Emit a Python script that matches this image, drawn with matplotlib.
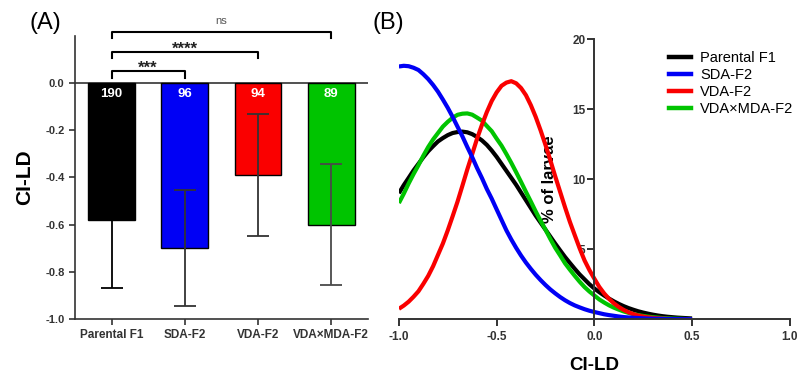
import numpy as np
import matplotlib
matplotlib.use("Agg")
import matplotlib.pyplot as plt
from matplotlib.lines import Line2D

plt.rcParams["font.family"] = ["Liberation Sans", "DejaVu Sans"]

# panel A: mean CI-LD per group
groups = ["Parental F1", "SDA-F2", "VDA-F2", "VDA×MDA-F2"]
means = [-0.58, -0.70, -0.39, -0.60]
sds = [0.29, 0.245, 0.26, 0.255]
counts = [190, 96, 94, 89]
colors = ["#000000", "#0000f5", "#fa0000", "#00c400"]
err_colors = ["#000000", "#333333", "#333333", "#4a4a4a"]
sig_pairs = [(0, 1, "***"), (0, 2, "****"), (0, 3, "ns")]
sig_heights = [0.05, 0.133, 0.217]

# panel B: distribution curves, read every 0.025 from -1.0 to 0.5
ci_grid = np.linspace(-1.0, 0.5, 61)
curve_parental = [9.0, 9.58, 10.1, 10.63, 11.1, 11.57, 12.0, 12.36, 12.7, 12.94,
                  13.15, 13.3, 13.37, 13.4, 13.35, 13.22, 13.02, 12.77, 12.45, 12.05,
                  11.6, 11.1, 10.6, 10.1, 9.6, 9.05, 8.5, 7.95, 7.4, 6.9,
                  6.4, 5.9, 5.4, 4.92, 4.45, 4.02, 3.6, 3.2, 2.85, 2.5,
                  2.2, 1.94, 1.7, 1.48, 1.28, 1.1, 0.94, 0.8, 0.68, 0.57,
                  0.48, 0.4, 0.33, 0.27, 0.22, 0.18, 0.15, 0.12, 0.1, 0.08, 0.06]
curve_sda = [18.05, 18.1, 18.07, 17.96, 17.8, 17.5, 17.15, 16.73, 16.25, 15.69,
             15.1, 14.45, 13.75, 13.06, 12.3, 11.58, 10.8, 10.08, 9.3, 8.61,
             7.85, 7.1, 6.35, 5.7, 5.1, 4.55, 4.05, 3.6, 3.18, 2.8,
             2.45, 2.13, 1.85, 1.59, 1.36, 1.16, 0.99, 0.85, 0.72, 0.61,
             0.52, 0.44, 0.36, 0.3, 0.25, 0.2, 0.16, 0.13, 0.11, 0.09,
             0.07, 0.05, 0.04, 0.035, 0.03, 0.02, 0.02, 0.015, 0.01, 0.01, 0.01]
curve_vda = [0.75, 0.98, 1.26, 1.61, 2.0, 2.53, 3.1, 3.79, 4.6, 5.41,
             6.35, 7.36, 8.4, 9.54, 10.7, 11.79, 12.9, 13.89, 14.8, 15.59,
             16.2, 16.67, 16.9, 17.0, 16.85, 16.51, 16.0, 15.29, 14.45, 13.49,
             12.45, 11.35, 10.2, 9.1, 8.0, 6.95, 6.0, 5.06, 4.2, 3.51,
             2.9, 2.32, 1.85, 1.46, 1.14, 0.88, 0.67, 0.5, 0.37, 0.27,
             0.2, 0.14, 0.1, 0.07, 0.05, 0.03, 0.02, 0.01, 0.01, 0.0, 0.0]
curve_vdamda = [8.3, 8.97, 9.7, 10.37, 11.0, 11.68, 12.3, 12.84, 13.3, 13.76,
                14.1, 14.39, 14.6, 14.68, 14.7, 14.61, 14.4, 14.18, 13.8, 13.43,
                12.9, 12.4, 11.8, 11.17, 10.5, 9.81, 9.1, 8.41, 7.7, 7.03,
                6.4, 5.73, 5.1, 4.56, 4.0, 3.54, 3.1, 2.68, 2.3, 1.98,
                1.7, 1.42, 1.2, 1.0, 0.83, 0.69, 0.56, 0.46, 0.37, 0.3,
                0.24, 0.19, 0.15, 0.12, 0.09, 0.07, 0.05, 0.04, 0.03, 0.02, 0.02]

fig = plt.figure(figsize=(8.01, 3.76), dpi=100)
axis_col = "#333333"

# ---------------- panel A
ax = fig.add_axes([0.0936, 0.1516, 0.3655, 0.753])
xs = np.arange(len(groups))
ax.bar(xs, means, width=0.64, color=colors, edgecolor="black", linewidth=1, zorder=2)
for i in range(len(groups)):
    ax.errorbar(xs[i], means[i], yerr=sds[i], color=err_colors[i], capsize=8,
                elinewidth=1.3, capthick=1.3, zorder=3)
    ax.text(xs[i], -0.047, str(counts[i]), color="white", fontsize=9.5,
            fontweight="bold", ha="center", va="center", zorder=4)
ax.axhline(0, color=axis_col, lw=1.2, zorder=1)

for (a, b, lab), h in zip(sig_pairs, sig_heights):
    ax.plot([a, a, b, b], [h - 0.028, h, h, h - 0.028], color="black", lw=1.5,
            clip_on=False)
    if lab == "ns":
        ax.text((a + b) / 2, h + 0.035, lab, fontsize=8, color="#555555",
                ha="center", va="baseline", clip_on=False)
    else:
        ax.text((a + b) / 2, h - 0.008, lab, fontsize=12, fontweight="bold",
                color="#222222", ha="center", va="baseline", clip_on=False)

ax.set_xlim(-0.5, 3.5)
ax.set_ylim(-1.0, 0.2)
ax.set_yticks([0.0, -0.2, -0.4, -0.6, -0.8, -1.0])
ax.set_yticklabels(["0.0", "-0.2", "-0.4", "-0.6", "-0.8", "-1.0"])
ax.set_xticks(xs)
ax.set_xticklabels(groups)
for s in ["top", "right"]:
    ax.spines[s].set_visible(False)
for s in ["left", "bottom"]:
    ax.spines[s].set_color(axis_col)
    ax.spines[s].set_linewidth(1.2)
ax.tick_params(axis="both", colors=axis_col, width=1.2, length=4)
for t in ax.get_xticklabels():
    t.set_fontweight("bold")
    t.set_fontsize(8.5)
for t in ax.get_yticklabels():
    t.set_fontweight("bold")
    t.set_fontsize(8)
ax.set_ylabel("CI-LD", fontsize=15, fontweight="bold", labelpad=8)
fig.text(0.037, 0.94, "(A)", fontsize=17, ha="left", va="center")

# ---------------- panel B
bx = fig.add_axes([0.498, 0.1508, 0.488, 0.745])
bx.set_axisbelow(True)
curve_style = dict(lw=3.0, solid_capstyle="butt", solid_joinstyle="round")
bx.plot(ci_grid, curve_parental, color="black", **curve_style)
bx.plot(ci_grid, curve_vdamda, color="#00c400", **curve_style)
bx.plot(ci_grid, curve_vda, color="#fa0000", **curve_style)
bx.plot(ci_grid, curve_sda, color="#0000f5", **curve_style)
bx.set_xlim(-1.0, 1.0)
bx.set_ylim(0, 20)
bx.set_xticks([-1.0, -0.5, 0.0, 0.5, 1.0])
bx.set_xticklabels(["-1.0", "-0.5", "0.0", "0.5", "1.0"])
bx.set_yticks([5, 10, 15, 20])
bx.spines["left"].set_position(("data", 0))
for s in ["top", "right"]:
    bx.spines[s].set_visible(False)
for s in ["left", "bottom"]:
    bx.spines[s].set_color(axis_col)
    bx.spines[s].set_linewidth(1.4)
bx.tick_params(axis="both", colors=axis_col, width=1.4, length=5)
bx.tick_params(axis="y", pad=1.5)
for t in bx.get_xticklabels() + bx.get_yticklabels():
    t.set_fontweight("bold")
    t.set_fontsize(8.5)
bx.set_xlabel("CI-LD", fontsize=13.5, fontweight="bold", labelpad=10)
bx.set_ylabel("% of larvae", fontsize=12, fontweight="bold")
bx.yaxis.set_label_coords(0.404, 0.5, transform=bx.transAxes)
fig.text(0.465, 0.94, "(B)", fontsize=17, ha="left", va="center")

handles = [Line2D([], [], color=c, lw=3.2) for c in colors]
bx.legend(handles, groups, loc="upper left", bbox_to_anchor=(0.8265, 0.884),
          bbox_transform=fig.transFigure, frameon=False, borderpad=0,
          handlelength=1.5, handletextpad=0.6, labelspacing=0.2, fontsize=10.5)

fig.savefig("out.png", dpi=100)
